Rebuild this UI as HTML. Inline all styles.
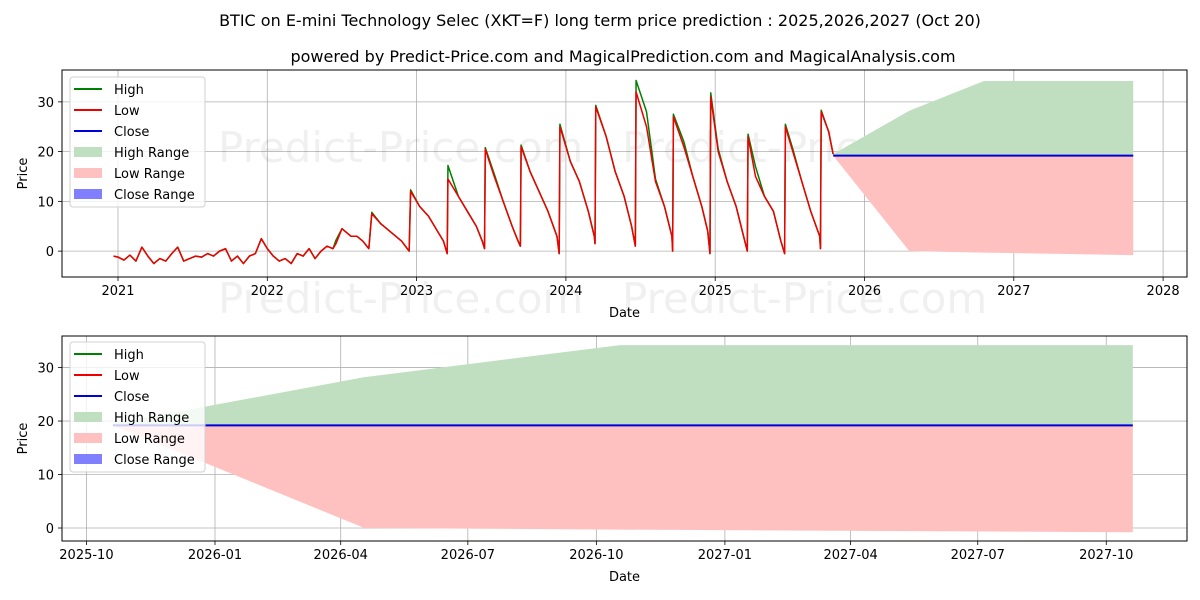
<!DOCTYPE html>
<html><head><meta charset="utf-8">
<style>
body{margin:0;background:#fff;}
svg{display:block;font-family:"DejaVu Sans","Liberation Sans",sans-serif;}
</style></head>
<body>
<svg id="chart" width="1200" height="600" viewBox="0 0 1200 600">
<text x="600" y="26" text-anchor="middle" font-size="16" fill="#000">BTIC on E-mini Technology Selec (XKT=F) long term price prediction : 2025,2026,2027 (Oct 20)</text>
<text x="623" y="62" text-anchor="middle" font-size="16" fill="#000">powered by Predict-Price.com and MagicalPrediction.com and MagicalAnalysis.com</text>
</svg>
<script>
// ---- top chart data ----
const histDates = [2020.97,2021.00,2021.04,2021.08,2021.12,2021.16,2021.20,2021.24,2021.28,2021.32,2021.36,2021.40,2021.44,2021.48,2021.52,2021.56,2021.60,2021.64,2021.68,2021.72,2021.76,2021.80,2021.84,2021.88,2021.92,2021.96,2022.00,2022.04,2022.08,2022.12,2022.16,2022.20,2022.24,2022.28,2022.32,2022.36,2022.40,2022.44,2022.46,2022.50,2022.56,2022.60,2022.64,2022.68,2022.70,2022.76,2022.82,2022.86,2022.90,2022.95,2022.96,2023.02,2023.08,2023.12,2023.18,2023.205,2023.21,2023.28,2023.34,2023.40,2023.44,2023.455,2023.46,2023.52,2023.58,2023.64,2023.68,2023.695,2023.70,2023.76,2023.82,2023.88,2023.94,2023.955,2023.96,2024.03,2024.09,2024.15,2024.19,2024.195,2024.20,2024.27,2024.33,2024.39,2024.44,2024.465,2024.47,2024.54,2024.60,2024.66,2024.71,2024.715,2024.72,2024.79,2024.85,2024.91,2024.95,2024.965,2024.97,2025.02,2025.08,2025.14,2025.19,2025.215,2025.22,2025.27,2025.33,2025.39,2025.44,2025.465,2025.47,2025.52,2025.58,2025.64,2025.70,2025.705,2025.71,2025.76,2025.79];
const lows = [-1,-1.2,-1.8,-0.8,-2,0.8,-1,-2.5,-1.5,-2,-0.5,0.8,-2,-1.5,-1,-1.2,-0.5,-1,0,0.5,-2,-1,-2.5,-1,-0.5,2.5,0.5,-1,-2,-1.5,-2.5,-0.5,-1,0.5,-1.5,0,1,0.5,1.5,4.5,3,3,2,0.5,7.5,5.5,4,3,2,0,12,9,7,5,2,-0.5,14.5,11,8,5,2,0.5,20.5,15,10,5,2,1,21,16,12,8,3,-0.5,25,18,14,8,3,1.5,29,23,16,11,5,1,32,25,14,9,3,0,27,21,15,9,4,-0.5,31,20,14,9,3,0,23,15,11,8,2,-0.5,25,20,14,8,3,0.5,28,24,19.5];
const highs = [-1,-1.2,-1.8,-0.8,-2,0.8,-1,-2.5,-1.5,-2,-0.5,0.8,-2,-1.5,-1,-1.2,-0.5,-1,0,0.5,-2,-1,-2.5,-1,-0.5,2.5,0.5,-1,-2,-1.5,-2.5,-0.5,-1,0.5,-1.5,0,1,0.5,2.2,4.5,3,3,2,0.5,7.8,5.5,4,3,2,0,12.3,9,7,5,2,-0.5,17.2,11,8,5,2,0.5,20.8,15.5,10,5,2,1,21.3,16,12,8,3,-0.5,25.5,18,14,8,3,1.5,29.3,23,16,11,5,1,34.3,28,14.5,9,3,0,27.5,22,15,9,4,-0.5,31.8,20.5,14,9,3,0,23.5,17,11,8,2,-0.5,25.5,20.5,14,8,3,0.5,28.3,24,19.5];
const predDates = [2025.79,2026.30,2026.80,2027.80];
const predHigh = [19.5,28.2,34.2,34.2];
const predLow = [19.2,0,-0.3,-0.8];
const predClose = [19.2,19.2,19.2,19.2];
const topXTicks = [2021,2022,2023,2024,2025,2026,2027,2028];
const topYTicks = [0,10,20,30];
// ---- bottom chart data (days since 2025-10-20) ----
const zoomDays = [0,180,363,730];
const zoomHigh = [19.5,28.2,34.2,34.2];
const zoomLow = [19.2,0,-0.3,-0.8];
const zoomClose = [19.2,19.2,19.2,19.2];
const botXTickLabels = ["2025-10","2026-01","2026-04","2026-07","2026-10","2027-01","2027-04","2027-07","2027-10"];
const botXTickDays = [-19,73,163,254,346,438,528,619,711];
const botYTicks = [0,10,20,30];

const NS="http://www.w3.org/2000/svg";
const svg=document.getElementById('chart');
function mk(tag,attrs,parent){const e=document.createElementNS(NS,tag);for(const k in attrs)e.setAttribute(k,attrs[k]);(parent||svg).appendChild(e);return e;}

function drawPanel(p){
  const g=mk('g',{});
  
  
  const X=v=>p.x0+(v-p.xmin)/(p.xmax-p.xmin)*(p.x1-p.x0);
  const Y=v=>p.y1-(v-p.ymin)/(p.ymax-p.ymin)*(p.y1-p.y0);
  p.xt.forEach((t,i)=>{
    const l=mk('line',{x1:X(t),x2:X(t),y1:p.y0,y2:p.y1,stroke:'#b0b0b0','stroke-width':0.8},g);
    
    
    mk('line',{x1:X(t),x2:X(t),y1:p.y1,y2:p.y1+4,stroke:'#000','stroke-width':0.8},g);
    const tx=mk('text',{x:X(t),y:p.y1+18,'text-anchor':'middle','font-size':13},g);
    tx.textContent=p.xl[i];
    
    
  });
  p.yt.forEach(t=>{
    const l=mk('line',{x1:p.x0,x2:p.x1,y1:Y(t),y2:Y(t),stroke:'#b0b0b0','stroke-width':0.8},g);
    
    
    mk('line',{x1:p.x0-4,x2:p.x0,y1:Y(t),y2:Y(t),stroke:'#000','stroke-width':0.8},g);
    const tx=mk('text',{x:p.x0-8,y:Y(t)+5,'text-anchor':'end','font-size':13},g);
    tx.textContent=t;
    
    
  });
  p.wm.forEach(w=>{
    const t=mk('text',{x:w[0],y:w[1],'font-size':42,fill:'#000','fill-opacity':0.06},g);
    t.textContent='Predict-Price.com';
    
    
  });
  const band=(xs,a,b,col,name)=>{
    let d='M'+xs.map((x,i)=>X(x)+','+Y(a[i])).join('L');
    for(let i=xs.length-1;i>=0;i--)d+='L'+X(xs[i])+','+Y(b[i]);
    const e=mk('path',{d:d+'Z',fill:col,stroke:'none'},g);
    
    
  };
  band(p.px,p.ph,p.pc,'#c0dfc0','high-range-area');
  band(p.px,p.pc,p.pl,'#ffc0c0','low-range-area');
  const line=(xs,vs,col,w,name)=>{
    const e=mk('path',{d:'M'+xs.map((x,i)=>X(x)+','+Y(vs[i])).join('L'),fill:'none',stroke:col,'stroke-width':w,'stroke-linejoin':'round'},g);
    
    
  };
  if(p.hd){line(p.hd,p.hv,'#008000',1.5,'high-line');line(p.ld,p.lv,'#ee0000',1.5,'low-line');}
  line(p.px,p.pc,'#0000dd',2,'close-line');
  const f=mk('rect',{x:p.x0,y:p.y0,width:p.x1-p.x0,height:p.y1-p.y0,fill:'none',stroke:'#000','stroke-width':1},g);
  
  
  const xt=mk('text',{x:(p.x0+p.x1)/2,y:p.y1+40,'text-anchor':'middle','font-size':13},g);
  xt.textContent='Date';
  
  
  const cy=(p.y0+p.y1)/2;
  const yt=mk('text',{x:27,y:cy,'text-anchor':'middle','font-size':13,transform:'rotate(-90 27 '+cy+')'},g);
  yt.textContent='Price';
  
  
  const lg=mk('g',{},g);
  
  
  const ly=p.ly;
  mk('rect',{x:70,y:ly,width:135,height:130,rx:3,fill:'#fff','fill-opacity':0.8,stroke:'#d0d0d0'},lg);
  const ents=[['High','line','#008000'],['Low','line','#ee0000'],['Close','line','#0000dd'],['High Range','box','#c0dfc0'],['Low Range','box','#ffc0c0'],['Close Range','box','#8080ff']];
  ents.forEach((e,i)=>{
    const yy=ly+12+i*21;
    const eg=mk('g',{},lg);
    
    
    if(e[1]=='line')mk('line',{x1:74,x2:102,y1:yy,y2:yy,stroke:e[2],'stroke-width':2},eg);
    else mk('rect',{x:74,y:yy-5,width:28,height:10,fill:e[2]},eg);
    const t=mk('text',{x:114,y:yy+5,'font-size':13},eg);
    t.textContent=e[0];
  });
}

drawPanel({name:'top-chart',x0:62,x1:1187,y0:70,y1:277,xmin:2021-(118-62)/149.3,xmax:2021+(1187-118)/149.3,ymin:-5.2,ymax:36.4,
  xt:topXTicks,xl:topXTicks,yt:topYTicks,wm:[[218,162],[622,162],[218,313],[622,313]],
  px:predDates,ph:predHigh,pl:predLow,pc:predClose,hd:histDates,hv:highs,ld:histDates,lv:lows,ly:77});

drawPanel({name:'bottom-chart',x0:62,x1:1187,y0:336,y1:541,xmin:-(113-62)/1.397,xmax:(1187-113)/1.397,ymin:-2.43,ymax:35.9,
  xt:botXTickDays,xl:botXTickLabels,yt:botYTicks,wm:[[218,463],[622,463]],
  px:zoomDays,ph:zoomHigh,pl:zoomLow,pc:zoomClose,ly:342});
</script>
</body></html>
